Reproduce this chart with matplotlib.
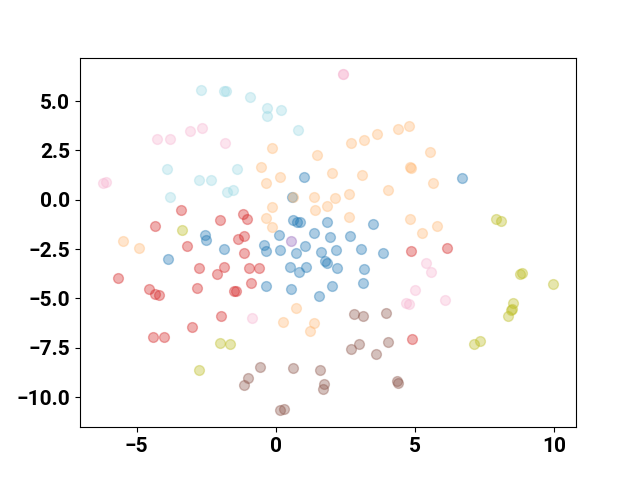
import matplotlib
matplotlib.use("Agg")
import matplotlib.pyplot as plt

plt.rcParams['font.family'] = ['Roboto', 'DejaVu Sans']

blue_x = [1.01, 6.68, 0.60, 0.61, 0.76, 0.89, 1.85, 3.49, 0.12, 1.37, 1.94, 2.66, -2.55, -2.50,
          -1.85, -0.43, -0.33, 0.14, 0.72, 1.07, 1.64, 2.18, 3.07, 3.86, 1.79, 1.83, 0.53, 0.84,
          1.09, 2.19, 3.19, -3.87, -0.35, 0.54, 2.04, 3.12, 1.54]
blue_y = [1.15, 1.09, 0.16, -1.04, -1.12, -1.14, -1.14, -1.24, -1.76, -1.66, -1.88, -1.83, -1.80, -2.05,
          -2.48, -2.30, -2.59, -2.57, -2.69, -2.34, -2.66, -2.52, -2.51, -2.68, -3.09, -3.20, -3.40, -3.64,
          -3.40, -3.48, -3.50, -3.00, -4.36, -4.51, -4.36, -4.24, -4.85]

orange_x = [4.78, 4.39, 3.65, 3.19, 2.72, -0.13, 1.50, 5.54, -0.51, 4.82, 4.86, 2.04, 3.09, 0.14,
            5.67, -0.36, 4.05, 2.62, 0.62, 1.39, 2.12, -0.13, 1.42, 1.86, -0.33, 2.63, 4.82, -0.12,
            5.78, 5.24, -5.47, -4.91, 0.74, 0.25, 1.39, 1.22]
orange_y = [3.72, 3.57, 3.35, 3.01, 2.88, 2.61, 2.27, 2.41, 1.65, 1.65, 1.62, 1.38, 1.23, 1.15,
            0.85, 0.86, 0.47, 0.30, 0.13, 0.13, 0.08, -0.38, -0.52, -0.34, -0.91, -0.87, -0.95, -1.38,
            -1.34, -1.68, -2.10, -2.42, -5.46, -6.19, -6.25, -6.64]

red_x = [-3.39, -4.34, -2.01, -1.16, -1.02, -1.35, -1.14, -3.17, -1.15, -5.65, -2.74, -2.09, -1.85,
         -0.96, -0.61, -0.89, -4.54, -4.32, -4.18, -2.82, -1.49, -1.43, -1.95, -3.01, -4.40, -4.01,
         4.85, 6.14, 4.88]
red_y = [-0.52, -1.34, -1.04, -0.70, -0.95, -1.98, -1.85, -2.32, -2.72, -3.96, -3.45, -3.74, -3.42,
         -3.45, -3.48, -4.20, -4.50, -4.78, -4.84, -4.48, -4.63, -4.63, -5.88, -6.46, -6.96, -6.96,
         -2.61, -2.46, -7.03]

pink_x = [-6.22, -6.10, -4.28, -3.81, -3.09, -2.64, -1.83, 2.41, 2.41, -0.86, 5.40, 5.58, 4.99, 4.67, 4.78, 6.08]
pink_y = [0.87, 0.90, 3.06, 3.06, 3.50, 3.62, 2.90, 6.35, 6.35, -5.98, -3.20, -3.66, -4.58, -5.23, -5.26, -5.09]

cyan_x = [-2.70, -1.87, -1.78, -0.91, -0.30, 0.19, -0.30, 0.81, -3.92, -2.74, -2.34, -1.39, -1.76, -1.55, -3.79]
cyan_y = [5.54, 5.51, 5.51, 5.19, 4.65, 4.53, 4.23, 3.55, 1.56, 1.02, 1.02, 1.58, 0.38, 0.50, 0.13]

olive_x = [-3.38, -2.00, -1.65, -2.76, 7.93, 8.08, 8.78, 8.84, 9.98, 8.54, 8.48, 8.45, 8.35, 7.14, 7.35]
olive_y = [-1.51, -7.25, -7.32, -8.60, -0.95, -1.10, -3.76, -3.71, -4.29, -5.24, -5.51, -5.56, -5.90, -7.33, -7.15]

brown_x = [-0.55, 0.64, 1.61, 1.72, 1.69, -0.99, -1.14, 0.17, 0.30, 2.83, 3.14, 3.97, 3.01, 2.72, 3.62, 4.04, 4.35, 4.41]
brown_y = [-8.47, -8.50, -8.60, -9.31, -9.59, -9.04, -9.39, -10.67, -10.61, -5.80, -5.90, -5.73, -7.32, -7.58, -7.79, -7.20, -9.19, -9.26]

purple_x = [0.56]
purple_y = [-2.10]

groups = [
    (blue_x, blue_y, '#1f77b4'),
    (orange_x, orange_y, '#ffbb78'),
    (red_x, red_y, '#d62728'),
    (purple_x, purple_y, '#9467bd'),
    (brown_x, brown_y, '#8c564b'),
    (pink_x, pink_y, '#f7b6d2'),
    (olive_x, olive_y, '#bcbd22'),
    (cyan_x, cyan_y, '#9edae5'),
]

fig, ax = plt.subplots(figsize=(6.4, 4.8), dpi=100)
for xs, ys, col in groups:
    ax.scatter(xs, ys, s=50, color=col, alpha=0.37)

ax.tick_params(labelsize=15)
for lab in ax.get_xticklabels() + ax.get_yticklabels():
    lab.set_fontweight('bold')

fig.savefig('out.png', dpi=100)
